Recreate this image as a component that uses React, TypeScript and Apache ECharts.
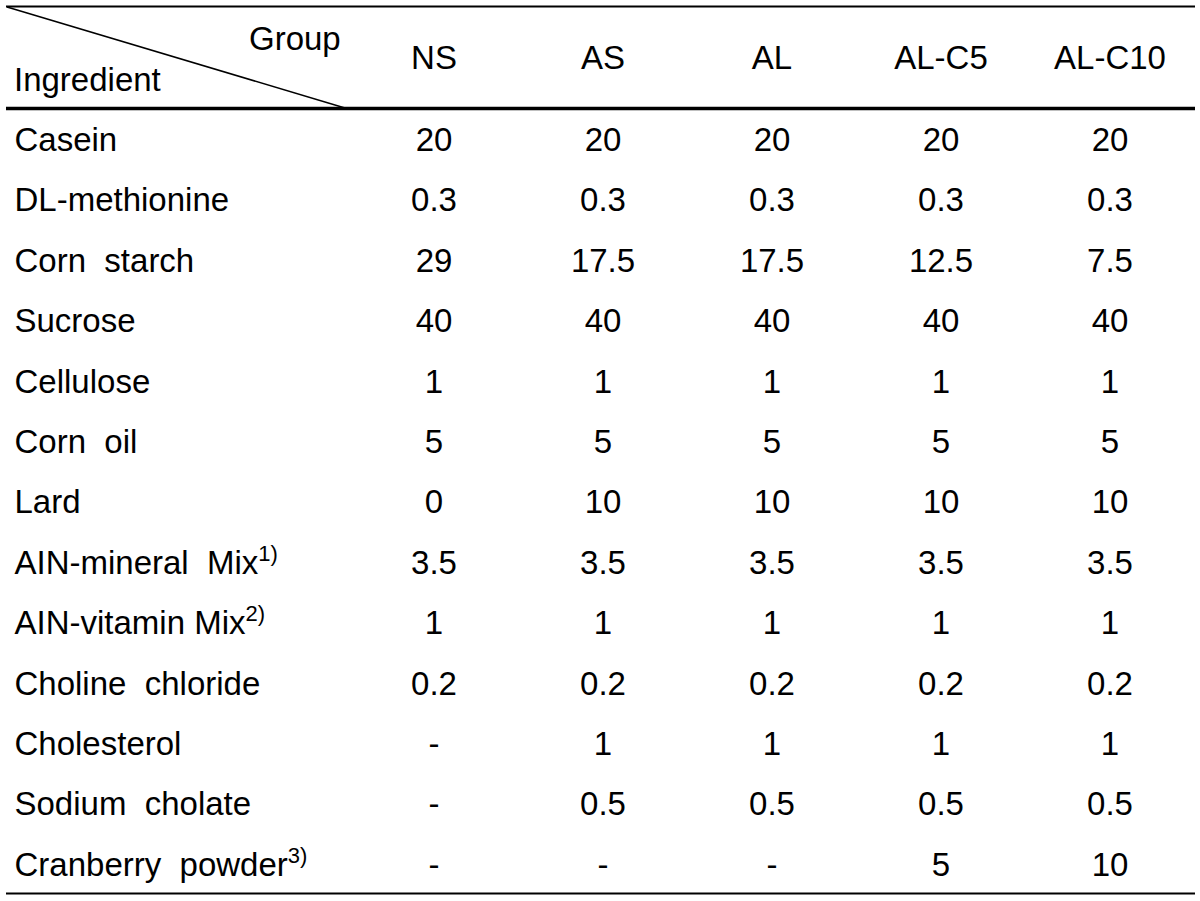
import React, { useEffect, useRef } from 'react';
import * as echarts from 'echarts';

const groups = ['NS', 'AS', 'AL', 'AL-C5', 'AL-C10'];
const ingredients = [
  'Casein',
  'DL-methionine',
  'Corn  starch',
  'Sucrose',
  'Cellulose',
  'Corn  oil',
  'Lard',
  'AIN-mineral  Mix',
  'AIN-vitamin Mix',
  'Choline  chloride',
  'Cholesterol',
  'Sodium  cholate',
  'Cranberry  powder',
];
const footnotes = ['', '', '', '', '', '', '', '1)', '2)', '', '', '', '3)'];

// null = "-"
const valuesNS = [20, 0.3, 29, 40, 1, 5, 0, 3.5, 1, 0.2, null, null, null];
const valuesAS = [20, 0.3, 17.5, 40, 1, 5, 10, 3.5, 1, 0.2, 1, 0.5, null];
const valuesAL = [20, 0.3, 17.5, 40, 1, 5, 10, 3.5, 1, 0.2, 1, 0.5, null];
const valuesALC5 = [20, 0.3, 12.5, 40, 1, 5, 10, 3.5, 1, 0.2, 1, 0.5, 5];
const valuesALC10 = [20, 0.3, 7.5, 40, 1, 5, 10, 3.5, 1, 0.2, 1, 0.5, 10];
const groupValues = [valuesNS, valuesAS, valuesAL, valuesALC5, valuesALC10];

const headerGroup = 'Group';
const headerIngredient = 'Ingredient';

const FONT = '"Liberation Sans", Arial, Helvetica, sans-serif';
const FS = 33;

export default function App() {
  const ref = useRef<HTMLDivElement>(null);
  useEffect(() => {
    const chart = echarts.init(ref.current as HTMLDivElement, null, { renderer: 'svg' });
    const data: any[] = [];
    groupValues.forEach((col, i) =>
      col.forEach((v, j) => data.push({ name: v === null ? '-' : String(v), value: [i, j] }))
    );
    const textStyle = { fontSize: FS, fontFamily: FONT, color: '#000' };
    chart.setOption({
      animation: false,
      backgroundColor: '#ffffff',
      grid: { left: 349.5, top: 109.3, width: 845, height: 785.2, outerBoundsMode: 'none' },
      xAxis: {
        type: 'category',
        data: groups,
        position: 'top',
        axisLine: { show: false },
        axisTick: { show: false },
        splitLine: { show: false },
        axisLabel: { ...textStyle, interval: 0, margin: 52, verticalAlign: 'middle' },
      },
      yAxis: {
        type: 'category',
        data: ingredients,
        inverse: true,
        axisLine: { show: false },
        axisTick: { show: false },
        splitLine: { show: false },
        axisLabel: {
          ...textStyle,
          interval: 0,
          align: 'left',
          margin: 335,
          formatter: (val: string, idx: number) =>
            footnotes[idx] ? `{n|${val}}{s|${footnotes[idx]}}` : `{n|${val}}`,
          rich: {
            n: { ...textStyle },
            s: { fontSize: 22, fontFamily: FONT, color: '#000', padding: [0, 0, 18, 0] },
          },
        },
      },
      series: [
        {
          type: 'scatter',
          data,
          symbolSize: 0,
          itemStyle: { color: '#000' },
          silent: true,
          label: {
            show: true,
            position: 'inside',
            formatter: (p: any) => p.name,
            ...textStyle,
            opacity: 1,
            textBorderWidth: 0,
          },
        },
      ],
      graphic: [
        { type: 'line', shape: { x1: 6, y1: 6.5, x2: 1195, y2: 6.5 }, style: { stroke: '#000', lineWidth: 2 } },
        { type: 'line', shape: { x1: 6, y1: 108.5, x2: 1195, y2: 108.5 }, style: { stroke: '#000', lineWidth: 3.5 } },
        { type: 'line', shape: { x1: 6, y1: 893.5, x2: 1195, y2: 893.5 }, style: { stroke: '#000', lineWidth: 2 } },
        { type: 'line', shape: { x1: 7, y1: 7, x2: 345, y2: 108 }, style: { stroke: '#000', lineWidth: 1.5 } },
        {
          type: 'text',
          x: 249,
          y: 38,
          style: { text: headerGroup, fontSize: FS, fontFamily: FONT, fill: '#000', align: 'left', verticalAlign: 'middle' },
        },
        {
          type: 'text',
          x: 14,
          y: 79,
          style: { text: headerIngredient, fontSize: FS, fontFamily: FONT, fill: '#000', align: 'left', verticalAlign: 'middle' },
        },
      ],
    });
    return () => chart.dispose();
  }, []);
  return <div ref={ref} style={{ position: 'absolute', left: 0, top: 0, width: 1200, height: 901 }} />;
}
